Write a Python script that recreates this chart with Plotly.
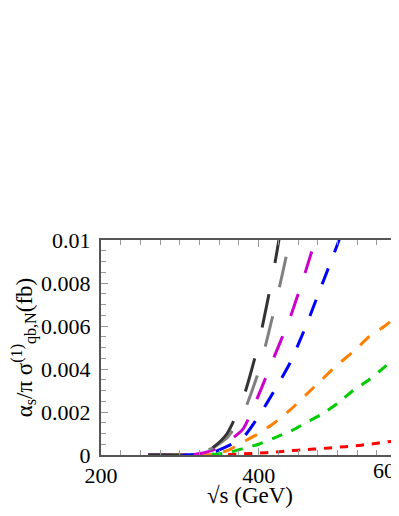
import plotly.graph_objects as go

# sqrt(s) grid (GeV) and cross sections (fb)
sqrt_s = [260, 300, 320, 340, 360, 380, 400, 420, 440, 460, 480, 500, 520, 540, 560, 580, 600]

black_v = [0, 0, 0.00005, 0.0003, 0.001, 0.0026, 0.0052, 0.0088, 0.0132]
gray_v = [0, 0, 0.00004, 0.0003, 0.0008, 0.0019, 0.0039, 0.0068, 0.0101, 0.014]
magenta_v = [0, 0, 0.00003, 0.0002, 0.0006, 0.0012, 0.0028, 0.0046, 0.0064, 0.0086, 0.011, 0.0135]
blue_v = [0, 0, 0.00002, 0.0001, 0.0004, 0.0008, 0.0018, 0.003, 0.0043, 0.006, 0.0079, 0.0098, 0.012]
orange_v = [0, 0, 0.00001, 0.00003, 0.0002, 0.0006, 0.001, 0.0015, 0.0021, 0.0028, 0.0035,
            0.0042, 0.0048, 0.0055, 0.006, 0.0066, 0.0071]
green_v = [0, 0, 0.00001, 0.00003, 0.0001, 0.0003, 0.0005, 0.0008, 0.0011, 0.0015, 0.0019,
           0.0024, 0.003, 0.0035, 0.0041, 0.0047, 0.0053]
red_v = [0, 0, 0, 0, 0.00002, 0.00005, 0.00009, 0.00013, 0.0002, 0.00025, 0.0003,
         0.00036, 0.00042, 0.0005, 0.0006, 0.00068, 0.00075]

x_ticks = [200, 400, 600]
y_ticks = [0, 0.002, 0.004, 0.006, 0.008, 0.01]
y_ticktext = ["0", "0.002", "0.004", "0.006", "0.008", "0.01"]

curves = [
    (red_v, "#ff0000", "8px,8px"),
    (green_v, "#00cc00", "11px,10px"),
    (orange_v, "#ff8000", "13px,12px"),
    (blue_v, "#0000ff", "17px,17px"),
    (magenta_v, "#cc00cc", "23px,22px"),
    (gray_v, "#808080", "31px,30px"),
    (black_v, "#333333", "34px,32px"),
]

SERIF = "Liberation Serif"
X_MAX = 578  # the chart is cut at the right edge of the window, before 600

fig = go.Figure()
for vals, col, dash in curves:
    fig.add_trace(go.Scatter(
        x=sqrt_s[:len(vals)], y=vals, mode="lines",
        line=dict(color=col, width=3, dash=dash, shape="spline", smoothing=0.6),
        showlegend=False,
    ))

axis_common = dict(
    showgrid=False, zeroline=False, showline=True, linecolor="#555555", linewidth=2,
    mirror="ticks", ticks="inside", ticklen=7, tickcolor="#999999", tickwidth=1,
    tickfont=dict(family=SERIF, size=22, color="black"), automargin=False,
)

fig.update_xaxes(
    range=[200, X_MAX], tickvals=x_ticks,
    minor=dict(dtick=25, ticks="inside", ticklen=5, tickcolor="#999999"),
    title=dict(text="√s (GeV)", font=dict(family=SERIF, size=23, color="black"), standoff=9),
    **axis_common,
)
fig.update_yaxes(
    range=[0, 0.01], tickvals=y_ticks, ticktext=y_ticktext, ticklabelstandoff=4,
    minor=dict(dtick=0.0005, ticks="inside", ticklen=5, tickcolor="#999999"),
    title=dict(text="α<sub>s</sub>/π σ<sup>(1)</sup><sub>qb,N</sub>(fb)",
               font=dict(family=SERIF, size=23, color="black"), standoff=8),
    **axis_common,
)

# the 600 tick label, only its first digit peeks in at the cut edge
fig.add_annotation(x=1.03, y=0, xref="paper", yref="paper",
                   text=str(x_ticks[2]), showarrow=False, yanchor="top", yshift=-1,
                   font=dict(family=SERIF, size=22, color="black"))

fig.update_layout(
    width=391, height=500, autosize=False,
    margin=dict(l=93, r=0, t=232, b=53),
    plot_bgcolor="white", paper_bgcolor="white",
    font=dict(family=SERIF),
)

fig.write_html("out.html", config={"responsive": False})
